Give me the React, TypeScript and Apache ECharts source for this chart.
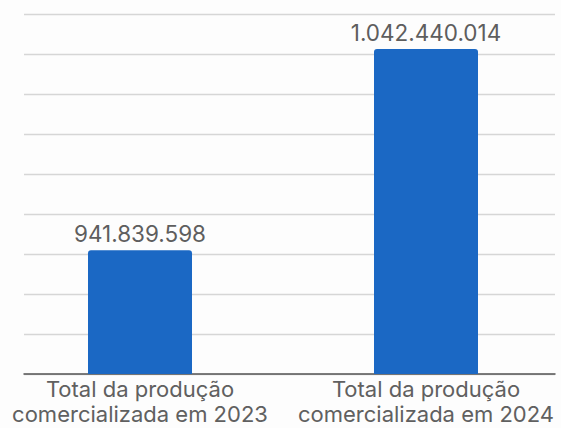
import React, { useEffect, useRef } from "react";
import * as echarts from "echarts";

const categories = [
  "Total da produção\ncomercializada em 2023",
  "Total da produção\ncomercializada em 2024",
];
const values = [941839598, 1042440014];
const yMin = 880000000;
const yMax = 1060000000;
const yStep = 20000000;

const fmt = (v: number) => String(Math.round(v)).replace(/\B(?=(\d{3})+(?!\d))/g, ".");

export default function App() {
  const ref = useRef<HTMLDivElement>(null);
  useEffect(() => {
    if (!ref.current) return;
    const chart = echarts.init(ref.current, undefined, { renderer: "svg" });
    const font = "Inter";
    chart.setOption({
      animation: false,
      backgroundColor: "#fdfdfd",
      grid: [
        { left: 34, right: 20, top: 14, bottom: 54 },
        { left: 7, right: 6, top: 14, bottom: 54 },
      ],
      xAxis: [
        {
          type: "category",
          gridIndex: 0,
          data: categories,
          axisLine: { show: true, lineStyle: { color: "#555555", width: 1.5 } },
          axisTick: { show: false },
          axisLabel: { show: false },
        },
        {
          type: "category",
          gridIndex: 1,
          data: categories,
          axisLine: { show: false },
          axisTick: { show: false },
          axisLabel: {
            show: true,
            interval: 0,
            margin: 3,
            color: "#606060",
            fontFamily: font,
            fontSize: 22,
            lineHeight: 24.5,
          },
        },
      ],
      yAxis: [
        {
          type: "value",
          gridIndex: 0,
          min: yMin,
          max: yMax,
          interval: yStep,
          axisLabel: { show: false },
          axisLine: { show: false },
          axisTick: { show: false },
          splitLine: { show: true, lineStyle: { color: "#d6d6d6", width: 1.3 } },
        },
        {
          type: "value",
          gridIndex: 1,
          min: yMin,
          max: yMax,
          interval: yStep,
          show: false,
          splitLine: { show: false },
        },
      ],
      series: [
        {
          type: "bar",
          xAxisIndex: 1,
          yAxisIndex: 1,
          data: values,
          barWidth: 104,
          itemStyle: { color: "#1b68c4", borderRadius: [3, 3, 0, 0] },
          label: {
            show: true,
            position: "top",
            distance: 5,
            color: "#5e5e5e",
            fontFamily: font,
            fontSize: 22.5,
            formatter: (p: any) => fmt(p.value),
          },
        },
      ],
    });
    return () => chart.dispose();
  }, []);
  return (
    <div
      style={{
        position: "fixed",
        left: 0,
        top: 0,
        width: 561,
        height: 428,
        overflow: "hidden",
      }}
    >
      <div
        ref={ref}
        style={{ position: "absolute", left: -10, top: 0, width: 585, height: 428 }}
      />
    </div>
  );
}
